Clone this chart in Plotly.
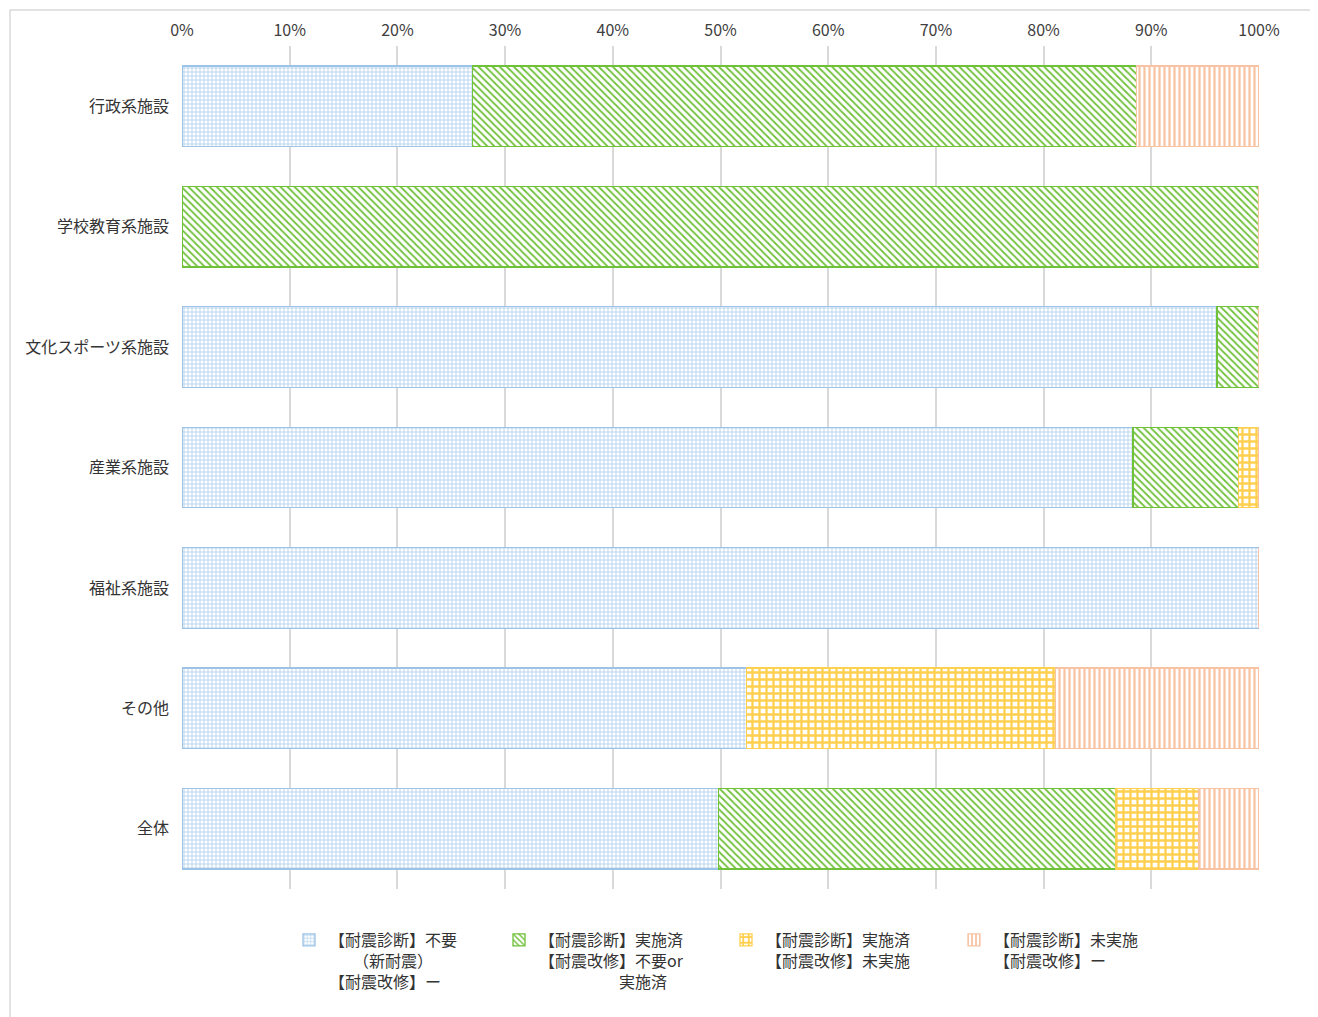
import plotly.graph_objects as go

categories = ["行政系施設", "学校教育系施設", "文化スポーツ系施設", "産業系施設", "福祉系施設", "その他", "全体"]
series_names = [
    "【耐震診断】不要<br>　　（新耐震）<br>【耐震改修】ー",
    "【耐震診断】実施済<br>【耐震改修】不要or<br>　　　　　実施済",
    "【耐震診断】実施済<br>【耐震改修】未実施",
    "【耐震診断】未実施<br>【耐震改修】ー",
]
s1 = [27.0, 0.0, 96.1, 88.3, 100.0, 52.4, 49.8]
s2 = [61.6, 100.0, 3.9, 9.8, 0.0, 0.0, 36.9]
s3 = [0.0, 0.0, 0.0, 1.9, 0.0, 28.7, 7.7]
s4 = [11.4, 0.0, 0.0, 0.0, 0.0, 18.9, 5.6]
x_ticks = [0, 10, 20, 30, 40, 50, 60, 70, 80, 90, 100]

colors = ["#9DC3E6", "#70C13A", "#FFD04F", "#F8C3A3"]
shapes_p = ["+", "\\", "+", "|"]
sizes = [4, 5, 7, 5]
solid = [0.3, 0.35, 0.55, 0.45]
legend_ids = ["legend", "legend2", "legend3", "legend4"]

fig = go.Figure()
for name, vals, c, sh, sz, so, lg in zip(series_names, [s1, s2, s3, s4], colors, shapes_p, sizes, solid, legend_ids):
    fig.add_trace(go.Bar(
        y=categories, x=vals, name=name, orientation="h", width=0.67, legend=lg,
        showlegend=True,
        marker=dict(color=c, line=dict(color=c, width=1.3),
                    pattern=dict(shape=sh, fgcolor=c, bgcolor="white", size=sz, solidity=so, fillmode="replace")),
        hoverinfo="x+y",
    ))

# page has an 8px body margin, figure coordinates below are page coords minus 8
W, H = 1318, 1017
L, R, T, B = 174, 67, 38, 136
pw, ph = W - L - R, H - T - B

legend_x_px = [281, 491, 718, 946]
leg_common = dict(orientation="v", xanchor="left", y=-34 / ph, yanchor="top",
                  bgcolor="rgba(0,0,0,0)", font=dict(size=16, color="#333333"),
                  itemwidth=30, valign="top", visible=True)
legends = {}
for lg, xp in zip(legend_ids, legend_x_px):
    legends[lg] = dict(x=(xp - L) / pw, **leg_common)

fig.update_layout(
    width=W, height=H, barmode="stack", showlegend=True,
    margin=dict(l=L, r=R, t=T, b=B, autoexpand=False),
    plot_bgcolor="white", paper_bgcolor="white",
    font=dict(family="Noto Sans CJK JP", size=16, color="#333333"),
    xaxis=dict(side="top", range=[0, 100], tickvals=x_ticks,
               ticktext=[f"{v}%" for v in x_ticks], showgrid=True,
               gridcolor="#D9D9D9", gridwidth=1.5, zeroline=False, ticklabelstandoff=6,
               tickfont=dict(size=16, color="#404040"), ticks="", showline=False),
    yaxis=dict(autorange="reversed", showgrid=False, ticks="", ticklabelstandoff=12,
               tickfont=dict(size=16, color="#333333")),
    shapes=[dict(type="rect", xref="paper", yref="paper",
                 x0=(2 - L) / pw, x1=(1310 - L) / pw,
                 y0=-(B + 10) / ph,
                 y1=(ph + T - 2) / ph,
                 line=dict(color="#D9D9D9", width=1.5), fillcolor="rgba(0,0,0,0)", layer="below")],
    **legends,
)
fig.write_html("out.html")
